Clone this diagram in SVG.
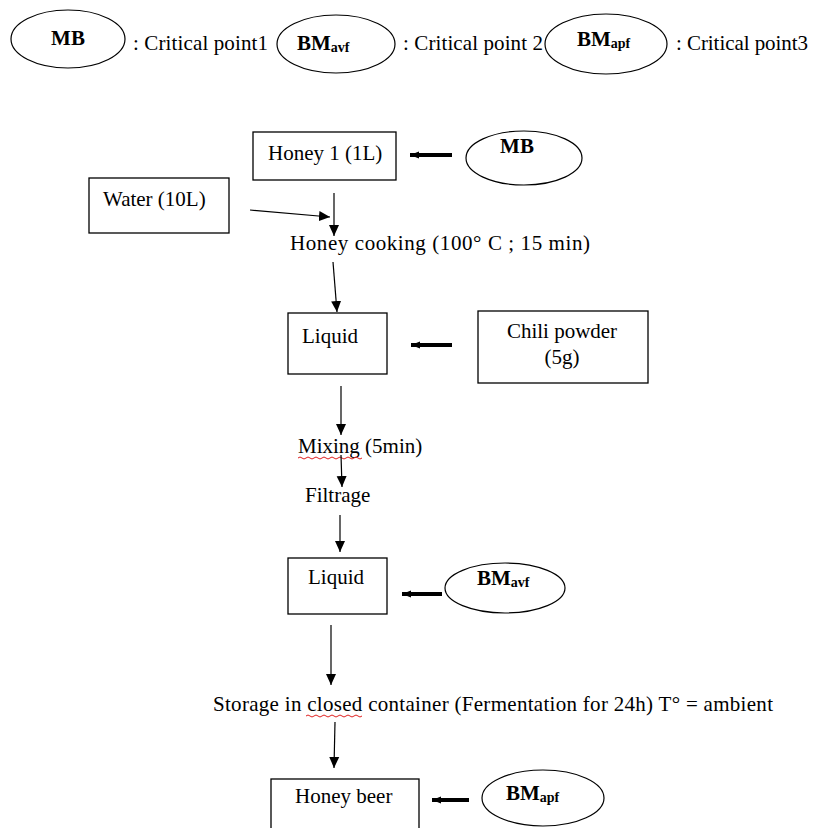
<svg xmlns="http://www.w3.org/2000/svg" width="814" height="828" viewBox="0 0 814 828" font-family="'Liberation Serif', 'Times New Roman', 'DejaVu Serif', serif">
<style>
text{font-family:'Liberation Serif','Times New Roman','DejaVu Serif',serif;font-size:21px;fill:#000}
.b{font-weight:bold}
.sub{font-size:14px;font-weight:bold}
.box{fill:#fff;stroke:#000;stroke-width:1.3}
.ell{fill:#fff;stroke:#000;stroke-width:1.2}
.thin{stroke:#000;stroke-width:1.2;fill:none;marker-end:url(#ah)}
.thick{stroke:#000;stroke-width:4;fill:none;marker-end:url(#th)}
.wavy{stroke:#e02020;stroke-width:1;fill:none}
</style>
<defs>
<marker id="ah" markerUnits="userSpaceOnUse" markerWidth="12" markerHeight="12" viewBox="0 0 12 12" refX="11" refY="6" orient="auto">
<path d="M0,1 L11,6 L0,11 Z" fill="#000"/>
</marker>
<marker id="th" markerUnits="userSpaceOnUse" markerWidth="10" markerHeight="10" viewBox="0 0 10 10" refX="9" refY="5" orient="auto">
<path d="M0,1.5 L9,5 L0,8.5 Z" fill="#000"/>
</marker>
</defs>
<rect width="814" height="828" fill="#fff"/>

<g id="legend">
<g id="legend-mb"><ellipse class="ell" cx="68" cy="39" rx="57" ry="29"/><text class="b" x="68" y="45" text-anchor="middle">MB</text></g>
<text x="133" y="50" textLength="135" lengthAdjust="spacing">: Critical point1</text>
<g id="legend-bmavf"><ellipse class="ell" cx="336" cy="44" rx="59" ry="29"/><text x="297" y="50"><tspan class="b">BM</tspan><tspan class="sub" dy="2">avf</tspan></text></g>
<text x="403" y="50" textLength="140" lengthAdjust="spacing">: Critical point 2</text>
<g id="legend-bmapf"><ellipse class="ell" cx="606" cy="44" rx="61" ry="30"/><text x="577" y="46"><tspan class="b">BM</tspan><tspan class="sub" dy="2">apf</tspan></text></g>
<text x="676" y="50" textLength="132" lengthAdjust="spacing">: Critical point3</text>
</g>

<g id="honey1"><rect class="box" x="253" y="132" width="143" height="48"/><text x="268" y="160">Honey 1 (1L)</text></g>
<g id="mb"><ellipse class="ell" cx="524" cy="158" rx="58" ry="27"/><text class="b" x="517" y="153" text-anchor="middle">MB</text></g>
<g id="water"><rect class="box" x="89" y="178" width="140" height="55"/><text x="103" y="206">Water (10L)</text></g>
<g id="cooking"><text x="290" y="250" textLength="300" lengthAdjust="spacing">Honey cooking (100° C ; 15 min)</text></g>
<g id="liquid1"><rect class="box" x="288" y="313" width="99" height="61"/><text x="302" y="343">Liquid</text></g>
<g id="chili"><rect class="box" x="478" y="311" width="170" height="72"/><text x="562" y="338" text-anchor="middle">Chili powder</text><text x="562" y="364" text-anchor="middle">(5g)</text></g>
<g id="mixing"><text x="298" y="453">Mixing (5min)</text><path class="wavy" d="M298,458 q2,-2 4,0 t4,0 t4,0 t4,0 t4,0 t4,0 t4,0 t4,0 t4,0 t4,0 t4,0 t4,0 t4,0 t4,0 t4,0 t4,0"/></g>
<g id="filtrage"><text x="305" y="502">Filtrage</text></g>
<g id="liquid2"><rect class="box" x="288" y="558" width="99" height="56"/><text x="308" y="584">Liquid</text></g>
<g id="bmavf"><ellipse class="ell" cx="505" cy="588" rx="60" ry="25"/><text x="477" y="585"><tspan class="b">BM</tspan><tspan class="sub" dy="2">avf</tspan></text></g>
<g id="storage"><text x="213" y="711" textLength="560" lengthAdjust="spacing">Storage in closed container (Fermentation for 24h) T° = ambient</text><path class="wavy" d="M306,716 q2,-2 4,0 t4,0 t4,0 t4,0 t4,0 t4,0 t4,0 t4,0 t4,0 t4,0 t4,0 t4,0 t4,0 t4,0"/></g>
<g id="honeybeer"><rect class="box" x="271" y="779" width="148" height="60"/><text x="295" y="803">Honey beer</text></g>
<g id="bmapf"><ellipse class="ell" cx="543" cy="798" rx="61" ry="28"/><text x="506" y="800"><tspan class="b">BM</tspan><tspan class="sub" dy="2">apf</tspan></text></g>

<g id="connectors">
<line class="thick" x1="452" y1="155" x2="410" y2="155"/>
<line class="thin" x1="334" y1="193" x2="334" y2="236"/>
<line class="thin" x1="250" y1="210" x2="330" y2="217"/>
<line class="thin" x1="333" y1="262" x2="337" y2="312"/>
<line class="thick" x1="452" y1="345" x2="411" y2="345"/>
<line class="thin" x1="341" y1="386" x2="341" y2="435"/>
<line class="thin" x1="341" y1="455" x2="342" y2="487"/>
<line class="thin" x1="340" y1="515" x2="340" y2="552"/>
<line class="thick" x1="442" y1="594" x2="402" y2="594"/>
<line class="thin" x1="331" y1="625" x2="331" y2="685"/>
<line class="thin" x1="335" y1="722" x2="334" y2="768"/>
<line class="thick" x1="469" y1="800" x2="432" y2="800"/>
</g>
</svg>
